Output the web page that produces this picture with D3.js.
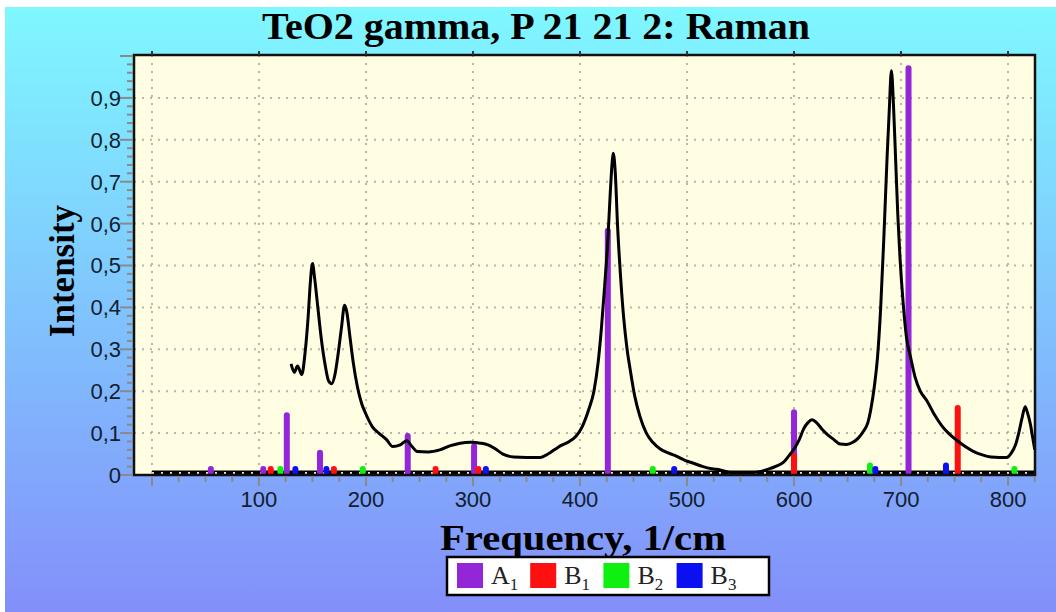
<!DOCTYPE html>
<html lang="en">

<head>
  <meta charset="UTF-8">
  <title>TeO2 gamma, P 21 21 2: Raman</title>
  <style>
    body { margin: 0; background: #fff; }
  </style>
</head>

<body>

  <script src="https://d3js.org/d3.v7.min.js"></script>

  <script>

    // Raman lines per symmetry (frequency in 1/cm, intensity)
    const a1Freq = [55, 104, 126, 157, 239, 301, 426, 600, 707];
    const a1Int = [0.005, 0.017, 0.15, 0.06, 0.1, 0.076, 0.59, 0.157, 0.978];
    const b1Freq = [111, 170, 265, 305, 600, 753];
    const b1Int = [0.015, 0.005, 0.005, 0.012, 0.052, 0.167];
    const b2Freq = [120, 197, 468, 671, 806];
    const b2Int = [0.008, 0.008, 0.016, 0.03, 0.006];
    const b3Freq = [134, 163, 312, 488, 676, 742];
    const b3Int = [0.006, 0.006, 0.006, 0.02, 0.016, 0.03];

    const specFreq = [130, 133, 136, 140, 143, 146, 148, 150, 152, 155, 158, 162, 165, 168, 171, 174, 177, 180, 182, 185,
      188, 192, 196, 200, 206, 212, 219, 225, 232, 238, 243, 248, 258, 269, 279, 288, 298, 307, 314, 320,
      328, 338, 350, 363, 370, 376, 382, 390, 396, 402, 408, 413, 417, 420, 423, 426, 428, 430, 431, 433,
      435, 438, 441, 444, 447, 451, 456, 462, 468, 475, 483, 490, 498, 506, 515, 523, 531, 540, 550, 560,
      568, 576, 584, 590, 595, 600, 605, 609, 613, 617, 621, 626, 631, 637, 643, 649, 655, 660, 665, 669,
      672, 675, 678, 681, 684, 687, 689, 691, 693, 695, 697, 699, 702, 705, 709, 713, 718, 724, 731, 738,
      745, 752, 760, 768, 776, 784, 792, 799, 803, 807, 810, 813, 816, 818, 821, 823, 825];
    const specInt = [0.265, 0.245, 0.26, 0.24, 0.29, 0.38, 0.46, 0.505, 0.47, 0.40, 0.33, 0.26, 0.225, 0.218, 0.24, 0.29, 0.35, 0.405, 0.39, 0.33,
      0.27, 0.21, 0.17, 0.145, 0.115, 0.1, 0.085, 0.068, 0.072, 0.082, 0.068, 0.056, 0.055, 0.06, 0.07, 0.076, 0.078, 0.076, 0.072, 0.064,
      0.05, 0.043, 0.042, 0.042, 0.05, 0.06, 0.07, 0.08, 0.092, 0.115, 0.155, 0.2, 0.27, 0.35, 0.45, 0.56, 0.66, 0.745, 0.768, 0.72,
      0.6, 0.47, 0.37, 0.3, 0.25, 0.19, 0.14, 0.1, 0.078, 0.062, 0.052, 0.045, 0.035, 0.028, 0.02, 0.015, 0.012, 0.006, 0.004, 0.005,
      0.008, 0.014, 0.022, 0.03, 0.045, 0.062, 0.085, 0.11, 0.125, 0.132, 0.125, 0.11, 0.097, 0.085, 0.074, 0.073, 0.078, 0.088, 0.105, 0.125,
      0.16, 0.21, 0.28, 0.4, 0.57, 0.76, 0.87, 0.965, 0.88, 0.75, 0.62, 0.52, 0.41, 0.33, 0.28, 0.235, 0.2, 0.178, 0.145, 0.118,
      0.098, 0.083, 0.068, 0.056, 0.048, 0.043, 0.042, 0.042, 0.052, 0.072, 0.1, 0.135, 0.163, 0.15, 0.12, 0.09, 0.06];

    const xTicks = [100, 200, 300, 400, 500, 600, 700, 800];
    const yTicks = [0, 0.1, 0.2, 0.3, 0.4, 0.5, 0.6, 0.7, 0.8, 0.9];
    const legendNames = ['A', 'B', 'B', 'B'];
    const legendSubs = ['1', '1', '2', '3'];
    const colors = ['#9326d6', '#ff1010', '#10f010', '#0a10f0'];

    const svgWidth = 1056, svgHeight = 612;
    const plot = { left: 134, right: 1035, top: 55, bottom: 475 };

    const xScale = d3.scaleLinear()
      .domain([-16.8, 825.2])
      .range([plot.left, plot.right]);

    const yScale = d3.scaleLinear()
      .domain([0, 1])
      .range([plot.bottom, plot.top + 1]);

    const svg = d3.select('body')
      .append('svg')
      .attr('width', svgWidth)
      .attr('height', svgHeight)
      .style('display', 'block');

    // achtergrond verloop
    const grad = svg.append('defs').append('linearGradient')
      .attr('id', 'bg').attr('x1', 0).attr('y1', 0).attr('x2', 0).attr('y2', 1);
    grad.append('stop').attr('offset', '0%').attr('stop-color', '#7ff8ff');
    grad.append('stop').attr('offset', '50%').attr('stop-color', '#80c4fd');
    grad.append('stop').attr('offset', '100%').attr('stop-color', '#838ffa');

    svg.append('rect')
      .attr('x', 5).attr('y', 7)
      .attr('width', svgWidth - 5).attr('height', svgHeight - 7)
      .attr('fill', 'url(#bg)');

    // title
    svg.append('text')
      .attr('x', 536).attr('y', 39)
      .attr('text-anchor', 'middle')
      .attr('font-family', '"Liberation Serif", "Times New Roman", serif')
      .attr('font-weight', 'bold')
      .attr('font-size', 37)
      .attr('textLength', 548)
      .attr('lengthAdjust', 'spacingAndGlyphs')
      .text('TeO2 gamma, P 21 21 2: Raman');

    // plot area
    svg.append('rect')
      .attr('x', plot.left).attr('y', plot.top)
      .attr('width', plot.right - plot.left).attr('height', plot.bottom - plot.top)
      .attr('fill', '#fffde2');

    const grid = svg.append('g');

    grid.selectAll('line.vx').data([0].concat(xTicks)).enter().append('line')
      .attr('class', 'vx')
      .attr('x1', d => xScale(d)).attr('x2', d => xScale(d))
      .attr('y1', plot.top).attr('y2', plot.bottom)
      .attr('stroke', '#b9b6a6').attr('stroke-width', 2)
      .attr('stroke-dasharray', '2,6');

    grid.selectAll('line.hy').data(yTicks.slice(1)).enter().append('line')
      .attr('class', 'hy')
      .attr('x1', plot.left).attr('x2', plot.right)
      .attr('y1', d => yScale(d)).attr('y2', d => yScale(d))
      .attr('stroke', '#b9b6a6').attr('stroke-width', 2)
      .attr('stroke-dasharray', '2,6');

    // dikke nul-lijn met stippen
    svg.append('line')
      .attr('x1', xScale(0)).attr('x2', plot.right)
      .attr('y1', plot.bottom - 2).attr('y2', plot.bottom - 2)
      .attr('stroke', '#000').attr('stroke-width', 5);

    svg.append('line')
      .attr('x1', xScale(0)).attr('x2', plot.right)
      .attr('y1', plot.bottom - 2).attr('y2', plot.bottom - 2)
      .attr('stroke', '#e8e6da').attr('stroke-width', 2)
      .attr('stroke-dasharray', '2,7');

    // lijnen (bars) per symmetrie
    const bars = [
      { f: a1Freq, v: a1Int },
      { f: b1Freq, v: b1Int },
      { f: b2Freq, v: b2Int },
      { f: b3Freq, v: b3Int }
    ];

    bars.forEach((s, i) => {
      svg.append('g').selectAll('line')
        .data(s.f.map((f, j) => ({ f: f, v: s.v[j] })))
        .enter().append('line')
        .attr('x1', d => xScale(d.f)).attr('x2', d => xScale(d.f))
        .attr('y1', plot.bottom - 3)
        .attr('y2', d => Math.min(yScale(d.v) + 3, plot.bottom - 6))
        .attr('stroke', colors[i])
        .attr('stroke-width', 6)
        .attr('stroke-linecap', 'round');
    });

    // spectrum
    const line = d3.line()
      .x(d => xScale(d[0]))
      .y(d => yScale(d[1]))
      .curve(d3.curveMonotoneX);

    svg.append('path')
      .datum(specFreq.map((f, i) => [f, specInt[i]]))
      .attr('d', line)
      .attr('fill', 'none')
      .attr('stroke', '#000')
      .attr('stroke-width', 3)
      .attr('stroke-linejoin', 'round');

    // border
    svg.append('rect')
      .attr('x', plot.left).attr('y', plot.top)
      .attr('width', plot.right - plot.left).attr('height', plot.bottom - plot.top)
      .attr('fill', 'none')
      .attr('stroke', '#111')
      .attr('stroke-width', 2.5);

    // kleine tikjes boven
    svg.append('g').selectAll('line').data([0].concat(xTicks)).enter().append('line')
      .attr('x1', d => xScale(d)).attr('x2', d => xScale(d))
      .attr('y1', plot.top - 4).attr('y2', plot.top)
      .attr('stroke', '#333').attr('stroke-width', 2);

    // y-as
    const yMinor = d3.range(0, 51).map(i => i * 0.02);
    svg.append('g').selectAll('line').data(yMinor).enter().append('line')
      .attr('x1', d => (Math.round(d * 50) % 5 === 0 ? plot.left - 14 : plot.left - 7))
      .attr('x2', plot.left - 1)
      .attr('y1', d => yScale(d)).attr('y2', d => yScale(d))
      .attr('stroke', '#8a8a8a').attr('stroke-width', 2);

    svg.append('g').selectAll('text').data(yTicks).enter().append('text')
      .attr('x', plot.left - 13)
      .attr('y', d => yScale(d))
      .attr('dy', '0.36em')
      .attr('text-anchor', 'end')
      .attr('font-family', '"Liberation Sans", Arial, sans-serif')
      .attr('font-size', 22)
      .attr('fill', '#10202e')
      .text(d => d3.format('.1f')(d).replace('.', ',').replace(/^0,0$/, '0'));

    // x-as
    const xMinor = d3.range(0, 34).map(i => i * 25);
    svg.append('g').selectAll('line').data(xMinor).enter().append('line')
      .attr('x1', d => xScale(d)).attr('x2', d => xScale(d))
      .attr('y1', plot.bottom + 1)
      .attr('y2', d => (d % 100 === 0 ? plot.bottom + 11 : plot.bottom + 7))
      .attr('stroke', '#8a8a8a').attr('stroke-width', 2);

    svg.append('g').selectAll('text').data(xTicks).enter().append('text')
      .attr('x', d => xScale(d))
      .attr('y', 507)
      .attr('text-anchor', 'middle')
      .attr('font-family', '"Liberation Sans", Arial, sans-serif')
      .attr('font-size', 22)
      .attr('fill', '#10202e')
      .text(d => d);

    // as-titels
    svg.append('text')
      .attr('transform', 'translate(74,271) rotate(-90)')
      .attr('text-anchor', 'middle')
      .attr('font-family', '"Liberation Serif", "Times New Roman", serif')
      .attr('font-weight', 'bold')
      .attr('font-size', 35)
      .text('Intensity');

    svg.append('text')
      .attr('x', 583).attr('y', 550)
      .attr('text-anchor', 'middle')
      .attr('font-family', '"Liberation Serif", "Times New Roman", serif')
      .attr('font-weight', 'bold')
      .attr('font-size', 36)
      .attr('textLength', 286)
      .attr('lengthAdjust', 'spacingAndGlyphs')
      .text('Frequency, 1/cm');

    // legenda
    const legend = svg.append('g');
    legend.append('rect')
      .attr('x', 447).attr('y', 557)
      .attr('width', 322).attr('height', 38)
      .attr('fill', '#fff')
      .attr('stroke', '#000')
      .attr('stroke-width', 2.5);

    const item = legend.selectAll('g.item').data(legendNames).enter().append('g')
      .attr('class', 'item')
      .attr('transform', (d, i) => `translate(${457 + i * 73.2},563)`);

    item.append('rect')
      .attr('width', 26).attr('height', 25)
      .attr('fill', (d, i) => colors[i]);

    const label = item.append('text')
      .attr('x', 34).attr('y', 21)
      .attr('font-family', '"Liberation Serif", "Times New Roman", serif')
      .attr('font-size', 26)
      .attr('fill', '#222');
    label.append('tspan').text(d => d);
    label.append('tspan')
      .attr('dy', 6)
      .attr('font-size', 17)
      .text((d, i) => legendSubs[i]);

  </script>

</body>

</html>
